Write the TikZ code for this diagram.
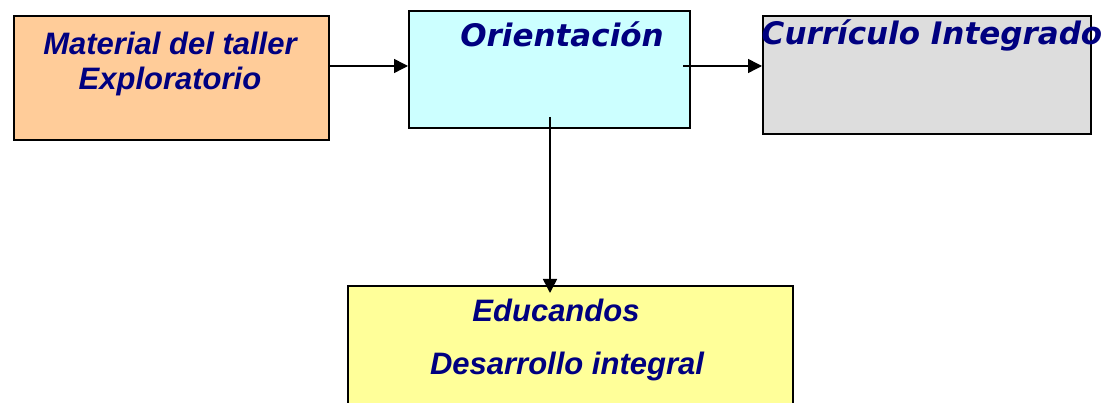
\documentclass[tikz,border=0pt]{standalone}
\usepackage{fontspec}
\setmainfont{Liberation Sans}
\newfontfamily\verdfont{DejaVu Sans}
\usetikzlibrary{arrows.meta}
\definecolor{inkblue}{HTML}{000080}
\definecolor{boxorange}{HTML}{FFCC99}
\definecolor{boxcyan}{HTML}{CCFFFF}
\definecolor{boxgray}{HTML}{DDDDDD}
\definecolor{boxyellow}{HTML}{FFFF99}
\tikzset{
  box/.style={draw, line width=1.8pt, inner sep=0pt, anchor=north west},
  lbl/.style={text=inkblue, font=\fontsize{31}{35}\selectfont\bfseries\itshape, inner sep=0pt, anchor=base},
  vlbl/.style={text=inkblue, font=\fontsize{31}{35}\selectfont\verdfont\bfseries\itshape, inner sep=0pt, anchor=base}
}

\begin{document}
\begin{tikzpicture}[x=1pt,y=-1pt,>={Triangle[length=14pt,width=14pt]}]
\clip (0,0) rectangle (1109,403);
% boxes
\node[box, fill=boxorange, minimum width=315pt, minimum height=124pt] (mat) at (13,15) {};
\node[box, fill=boxcyan, minimum width=281pt, minimum height=117pt] (orient) at (408,10) {};
\node[box, fill=boxgray, minimum width=328pt, minimum height=118pt] (curr) at (762,15) {};
\node[box, fill=boxyellow, minimum width=445pt, minimum height=140pt] (edu) at (347,285) {};
% texts
\node[lbl] (matA) at (170,55) {Material del taller};
\node[lbl] (matB) at (170,90) {Exploratorio};
\node[vlbl] (orientT) at (562,47) {Orientación};
\node[vlbl] (currT) at (932,45) {Currículo Integrado};
\node[lbl] (eduA) at (556,322) {Educandos};
\node[lbl] (eduB) at (567,374) {Desarrollo integral};
% arrows
\coordinate (row) at (0,66);
\coordinate (oStart) at (683,66);
\coordinate (dStart) at (550,117);
\coordinate (dEnd) at (550,293);
\draw[->, line width=1.5pt] (mat.east |- row) -- (orient.west |- row);
\draw[->, line width=1.5pt] (oStart) -- (curr.west |- row);
\draw[->, line width=1.5pt] (dStart) -- (dEnd);
\end{tikzpicture}
\end{document}
